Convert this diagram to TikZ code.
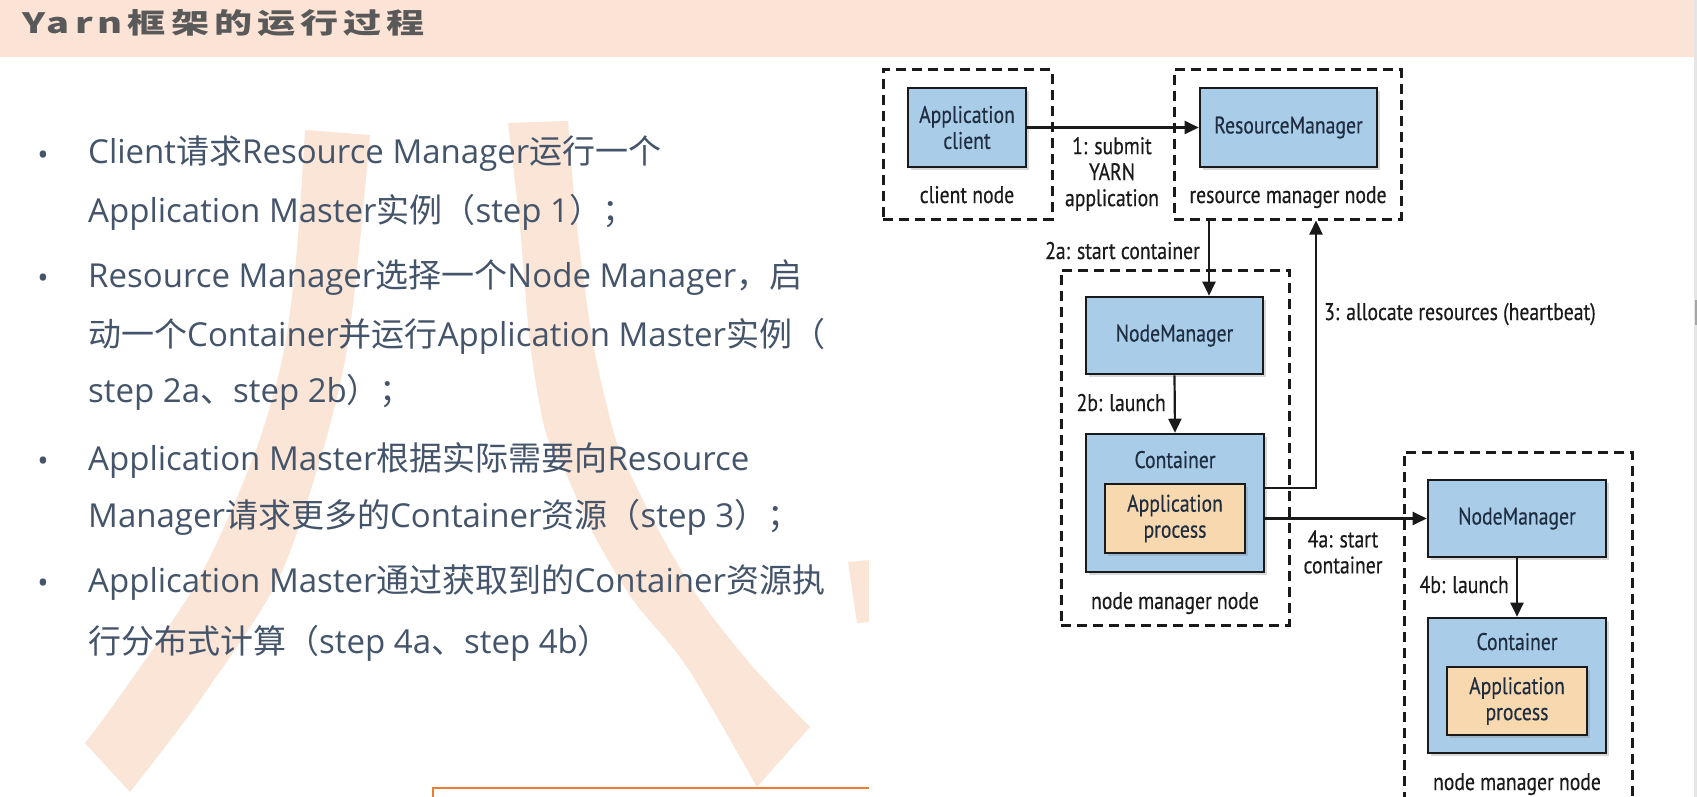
\documentclass[tikz,border=0pt]{standalone}
\usepackage{fontspec}
\setmainfont{Open Sans}
\newfontfamily\cjk{Noto Sans CJK SC}
\newfontfamily\titlefont{Noto Sans CJK SC}[FakeStretch=1.36,LetterSpace=18]
\newfontfamily\dgfont{PT Sans}[FakeStretch=0.82,FakeBold=0.4]
\newcommand\zh[1]{{\cjk #1}}
\usetikzlibrary{arrows.meta,shadows,calc}
\definecolor{txt}{HTML}{44546A}
\definecolor{wm}{HTML}{FBE5D6}
\definecolor{band}{HTML}{FBE4D6}
\definecolor{ttl}{HTML}{595959}
\definecolor{boxblue}{HTML}{A9CDE8}
\definecolor{boxtan}{HTML}{F8D8AE}
\definecolor{dk}{HTML}{1A1A1A}
\definecolor{lbl}{HTML}{1F2D40}
\definecolor{org}{HTML}{ED7D31}
\begin{document}
\begin{tikzpicture}[x=1pt,y=-1pt,
  body/.style={anchor=base west,inner sep=0pt,text=txt,font=\fontsize{33}{33}\selectfont},
  bul/.style={anchor=base,inner sep=0pt,text=txt,font=\fontsize{30}{30}\selectfont},
  sbox/.style={draw=dk,line width=2.6pt,fill=boxblue,inner sep=0pt,
    drop shadow={shadow xshift=3pt,shadow yshift=-3pt,opacity=0.3},
    font=\dgfont\fontsize{24}{26}\selectfont,text=lbl,align=center},
  pbox/.style={sbox,fill=boxtan},
  grp/.style={draw=dk,line width=3pt,dash pattern=on 10pt off 6pt,inner sep=0pt},
  lab/.style={inner sep=0pt,font=\dgfont\fontsize{24}{26}\selectfont,text=dk,align=center},
  arr/.style={draw=dk,line width=2.2pt,-{Triangle[length=14pt,width=13pt]}}]
\useasboundingbox (0,0) rectangle (1697,797);
\clip (0,0) rectangle (1697,797);
% background
\fill[white] (0,0) rectangle (1697,797);
% watermark
\fill[wm] plot[smooth] coordinates {(305,130) (296,260) (282,360) (253,458) (197,582) (117,700) (85,743)}
  -- plot[smooth] coordinates {(130,792) (200,700) (277,582) (320,460) (345,360) (358,260) (370,135)} -- cycle;
\fill[wm] plot[smooth] coordinates {(508,123) (520,227) (530,343) (545,430) (563,467) (593,533) (633,600) (687,667) (757,787)}
  -- plot[smooth] coordinates {(810,727) (753,667) (700,600) (660,533) (627,467) (613,430) (593,343) (577,227) (568,121)} -- cycle;
\fill[wm] (848,562) -- (870,560) -- (870,622) -- (857,623) -- cycle;
% title band
\fill[band] (0,0) rectangle (1694,57);
\node[anchor=base west,inner sep=0pt,text=ttl,font=\titlefont\bfseries\fontsize{28}{28}\selectfont] (title) at (22,34) {Yarn框架的运行过程};
% scrollbar
\fill[black!10] (1694,0) rectangle (1697,797);
\fill[black!35] (1695,300) rectangle (1697,325);
% bullets
\node[bul] (b1) at (43,165) {•};
\node[bul] (b2) at (43,288) {•};
\node[bul] (b3) at (43,471) {•};
\node[bul] (b4) at (43,593) {•};
% body text
\node[body] (l1) at (88,164) {Client\zh{请求}Resource Manager\zh{运行一个}};
\node[body] (l2) at (88,222) {Application Master\zh{实例（}step 1\zh{）；}};
\node[body] (l3) at (88,287) {Resource Manager\zh{选择一个}Node Manager\zh{，启}};
\node[body] (l4) at (88,346) {\zh{动一个}Container\zh{并运行}Application Master\zh{实例（}};
\node[body] (l5) at (88,402) {step 2a\zh{、}step 2b\zh{）；}};
\node[body] (l6) at (88,470) {Application Master\zh{根据实际需要向}Resource};
\node[body] (l7) at (88,527) {Manager\zh{请求更多的}Container\zh{资源（}step 3\zh{）；}};
\node[body] (l8) at (88,592) {Application Master\zh{通过获取到的}Container\zh{资源执}};
\node[body] (l9) at (88,653) {\zh{行分布式计算（}step 4a\zh{、}step 4b\zh{）}};
% orange box corner
\draw[org,line width=2pt] (433,800) -- (433,788) -- (871,788);
% diagram image background
\fill[white] (869,57) rectangle (1694,797);
% group boxes
\node[grp,minimum width=169pt,minimum height=149pt] (clientnode) at (967.5,144.5) {};
\node[grp,minimum width=227pt,minimum height=149pt] (rmnode) at (1287.5,144.5) {};
\node[grp,minimum width=228pt,minimum height=355pt] (nmnode1) at (1175,447.5) {};
\node[grp,minimum width=228pt,minimum height=388pt] (nmnode2) at (1518,646) {};
% boxes
\node[sbox,minimum width=118pt,minimum height=79pt] (appclient) at (967,127.5) {Application\\client};
\node[sbox,minimum width=177pt,minimum height=79pt] (rm) at (1288.5,127.5) {ResourceManager};
\node[sbox,minimum width=177pt,minimum height=77pt] (nm1) at (1174.5,335.5) {NodeManager};
\node[sbox,minimum width=178pt,minimum height=138pt] (cont1) at (1175,503) {};
\node[pbox,minimum width=140pt,minimum height=69pt] (ap1) at (1175,518.5) {Application\\process};
\node[sbox,minimum width=178pt,minimum height=77pt] (nm2) at (1517,518.5) {NodeManager};
\node[sbox,minimum width=178pt,minimum height=135pt] (cont2) at (1517,685.5) {};
\node[pbox,minimum width=140pt,minimum height=68pt] (ap2) at (1517,701) {Application\\process};
% labels
\node[lab,anchor=base,text=lbl] (cl1) at (1175,468) {Container};
\node[lab,anchor=base,text=lbl] (cl2) at (1517,650) {Container};
\node[lab,anchor=base] (lcn) at (967,203) {client node};
\node[lab,anchor=base] (lrmn) at (1288,203) {resource manager node};
\node[lab,anchor=base] (lnm1) at (1175,609) {node manager node};
\node[lab,anchor=base] (lnm2) at (1517,790) {node manager node};
\node[lab] (l1s) at (1112,174) {1: submit\\YARN\\application};
\node[lab,anchor=base east] (l2a) at (1200,259) {2a: start container};
\node[lab,anchor=base east] (l2b) at (1166,411) {2b: launch};
\node[lab,anchor=base west] (l3a) at (1324,320) {3: allocate resources (heartbeat)};
\node[lab] (l4a) at (1343,552) {4a: start\\container};
\node[lab,anchor=base east] (l4b) at (1509,593) {4b: launch};
% connectors
\coordinate (c2a) at (1209,219);
\coordinate (c3) at (1316,488);
\draw[arr] (appclient.east) -- (rm.west);
\draw[arr] (c2a) -- (c2a |- nm1.north);
\draw[arr] (nm1.south) -- (cont1.north);
\draw[arr] (c3 -| cont1.east) -- (c3) -- (c3 |- rmnode.south);
\draw[arr] (nm2.west -| cont1.east) -- (nm2.west);
\draw[arr] (nm2.south) -- (cont2.north);
\end{tikzpicture}
\end{document}
